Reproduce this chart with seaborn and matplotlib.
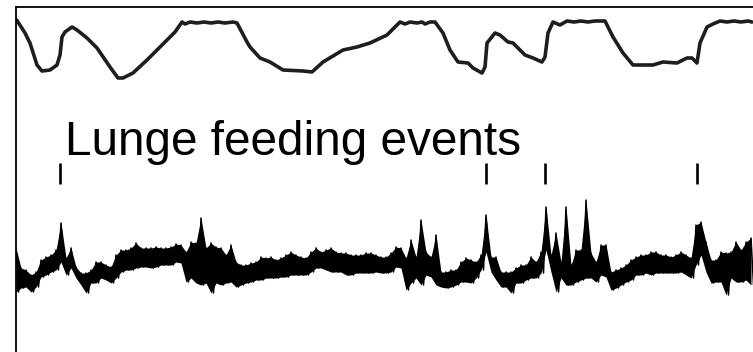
import numpy as np
import pandas as pd
import matplotlib
matplotlib.use("Agg")
import matplotlib.pyplot as plt
import seaborn as sns

# depth profile (top trace) in pixel units
depth_x = [16.7, 25, 30, 37, 42, 50, 57, 60, 62, 65, 72, 77, 87, 97, 110, 118, 123, 133,
           147, 160, 175, 182, 185, 190, 197, 204, 211, 218, 225, 233, 237, 247, 250, 260,
           270, 283, 303, 312, 323, 343, 357, 370, 387, 400, 405, 410, 417, 422, 425, 430,
           435, 443, 450, 458, 468, 473, 482, 485, 487, 495, 500, 508, 513, 525, 533, 542,
           545, 548, 553, 560, 567, 574, 581, 588, 595, 605, 613, 623, 633, 653, 663, 677,
           687, 692, 697, 700, 707, 713, 720, 727, 734, 741, 748, 752]
depth_y = [20, 33, 43, 65, 71, 70, 65, 55, 37, 32, 27, 30, 38, 48, 67, 78, 78, 73,
           60, 47, 32, 22, 24, 22, 23, 22, 23, 22, 23, 22, 23, 42, 47, 58,
           62, 70, 71, 72, 62, 50, 47, 43, 35, 22, 24, 22, 23, 22, 24, 22,
           22, 33, 50, 62, 63, 68, 73, 67, 43, 33, 35, 42, 43, 55, 58, 62,
           57, 33, 22, 25, 21, 22, 21, 22, 21, 21, 37, 53, 65, 65, 62, 63,
           58, 58, 63, 43, 27, 24, 21, 22, 21, 22, 21, 22]

# accelerometer-like signal (bottom trace): upper / lower envelope every 5 px
sig_x = list(range(16, 752, 5))
sig_hi = [248, 268, 270, 275, 272, 260, 257, 255, 250, 223, 258, 248, 267, 273, 273, 270,
          262, 262, 265, 267, 255, 250, 250, 248, 243, 248, 248, 248, 247, 248, 248, 247,
          244, 245, 252, 242, 243, 218, 248, 243, 247, 248, 255, 245, 262, 265, 265, 263,
          262, 257, 258, 257, 260, 258, 255, 252, 255, 257, 258, 252, 248, 252, 250, 248,
          252, 253, 253, 255, 255, 255, 253, 253, 255, 257, 257, 253, 247, 248, 258, 240,
          257, 220, 252, 257, 235, 272, 272, 270, 270, 262, 258, 260, 262, 255, 215, 257,
          257, 272, 272, 272, 268, 265, 265, 257, 262, 252, 207, 255, 233, 262, 207, 265,
          250, 250, 200, 253, 262, 245, 245, 272, 270, 268, 265, 260, 257, 255, 255, 252,
          252, 255, 255, 257, 255, 252, 255, 258, 225, 222, 242, 260, 260, 252, 253, 252,
          242, 250, 242, 238]
sig_lo = [292, 288, 287, 292, 287, 277, 275, 272, 270, 262, 275, 268, 278, 285, 293, 283,
          283, 278, 280, 283, 278, 272, 270, 270, 268, 267, 267, 268, 267, 265, 265, 265,
          262, 263, 282, 278, 283, 285, 283, 293, 283, 285, 283, 282, 287, 285, 283, 282,
          280, 280, 278, 278, 278, 277, 277, 275, 275, 275, 275, 272, 268, 268, 270, 272,
          272, 272, 275, 275, 273, 273, 273, 273, 272, 273, 273, 272, 267, 268, 290, 283,
          278, 285, 275, 277, 285, 287, 288, 287, 285, 282, 282, 283, 278, 270, 252, 272,
          280, 287, 287, 293, 283, 283, 280, 278, 278, 273, 250, 272, 292, 278, 285, 285,
          282, 280, 278, 278, 282, 275, 277, 290, 288, 285, 282, 280, 275, 275, 273, 275,
          273, 273, 273, 273, 273, 272, 275, 278, 265, 255, 272, 283, 282, 282, 295, 278,
          282, 282, 280, 285]

event_x = [60, 486, 545, 697]
label = "Lunge feeding events"


def build_signal():
    # zigzag between envelope values to get the dense noisy band
    xs, ys = [], []
    for x, hi, lo in zip(sig_x, sig_hi, sig_lo):
        xs += [x, x + 2.5]
        ys += [hi, lo]
    return pd.DataFrame({"x": xs, "y": ys})


def main():
    sns.set_style("white")
    plt.rcParams["font.family"] = ["Liberation Sans", "DejaVu Sans"]

    W, H = 753, 352
    fig = plt.figure(figsize=(W / 100, H / 100), dpi=100)
    left, top = 16, 7
    ax = fig.add_axes([left / W, 0, (W - left) / W, (H - top) / H])
    ax.set_xlim(left, W)
    ax.set_ylim(H, top)

    depth = pd.DataFrame({"x": depth_x, "y": depth_y})
    sns.lineplot(data=depth, x="x", y="y", ax=ax, color="#1e1e1e", lw=2.6,
                 estimator=None, sort=False)

    # solid core of the band, then the jagged trace on top
    ax.fill_between(sig_x, sig_hi, sig_lo, color="black", lw=0)
    sig = build_signal()
    sns.lineplot(data=sig, x="x", y="y", ax=ax, color="black", lw=1.1,
                 estimator=None, sort=False)

    ax.vlines(event_x, 163, 184, color="black", lw=1.9)
    ax.text(65, 155, label, fontsize=34.4, va="baseline", ha="left", color="black")

    ax.set_xticks([])
    ax.set_yticks([])
    ax.set_xlabel("")
    ax.set_ylabel("")
    for side in ["right", "bottom"]:
        ax.spines[side].set_visible(False)
    for side in ["left", "top"]:
        ax.spines[side].set_color("black")
        ax.spines[side].set_linewidth(1.3)

    fig.savefig("out.png", dpi=100)


if __name__ == "__main__":
    main()
